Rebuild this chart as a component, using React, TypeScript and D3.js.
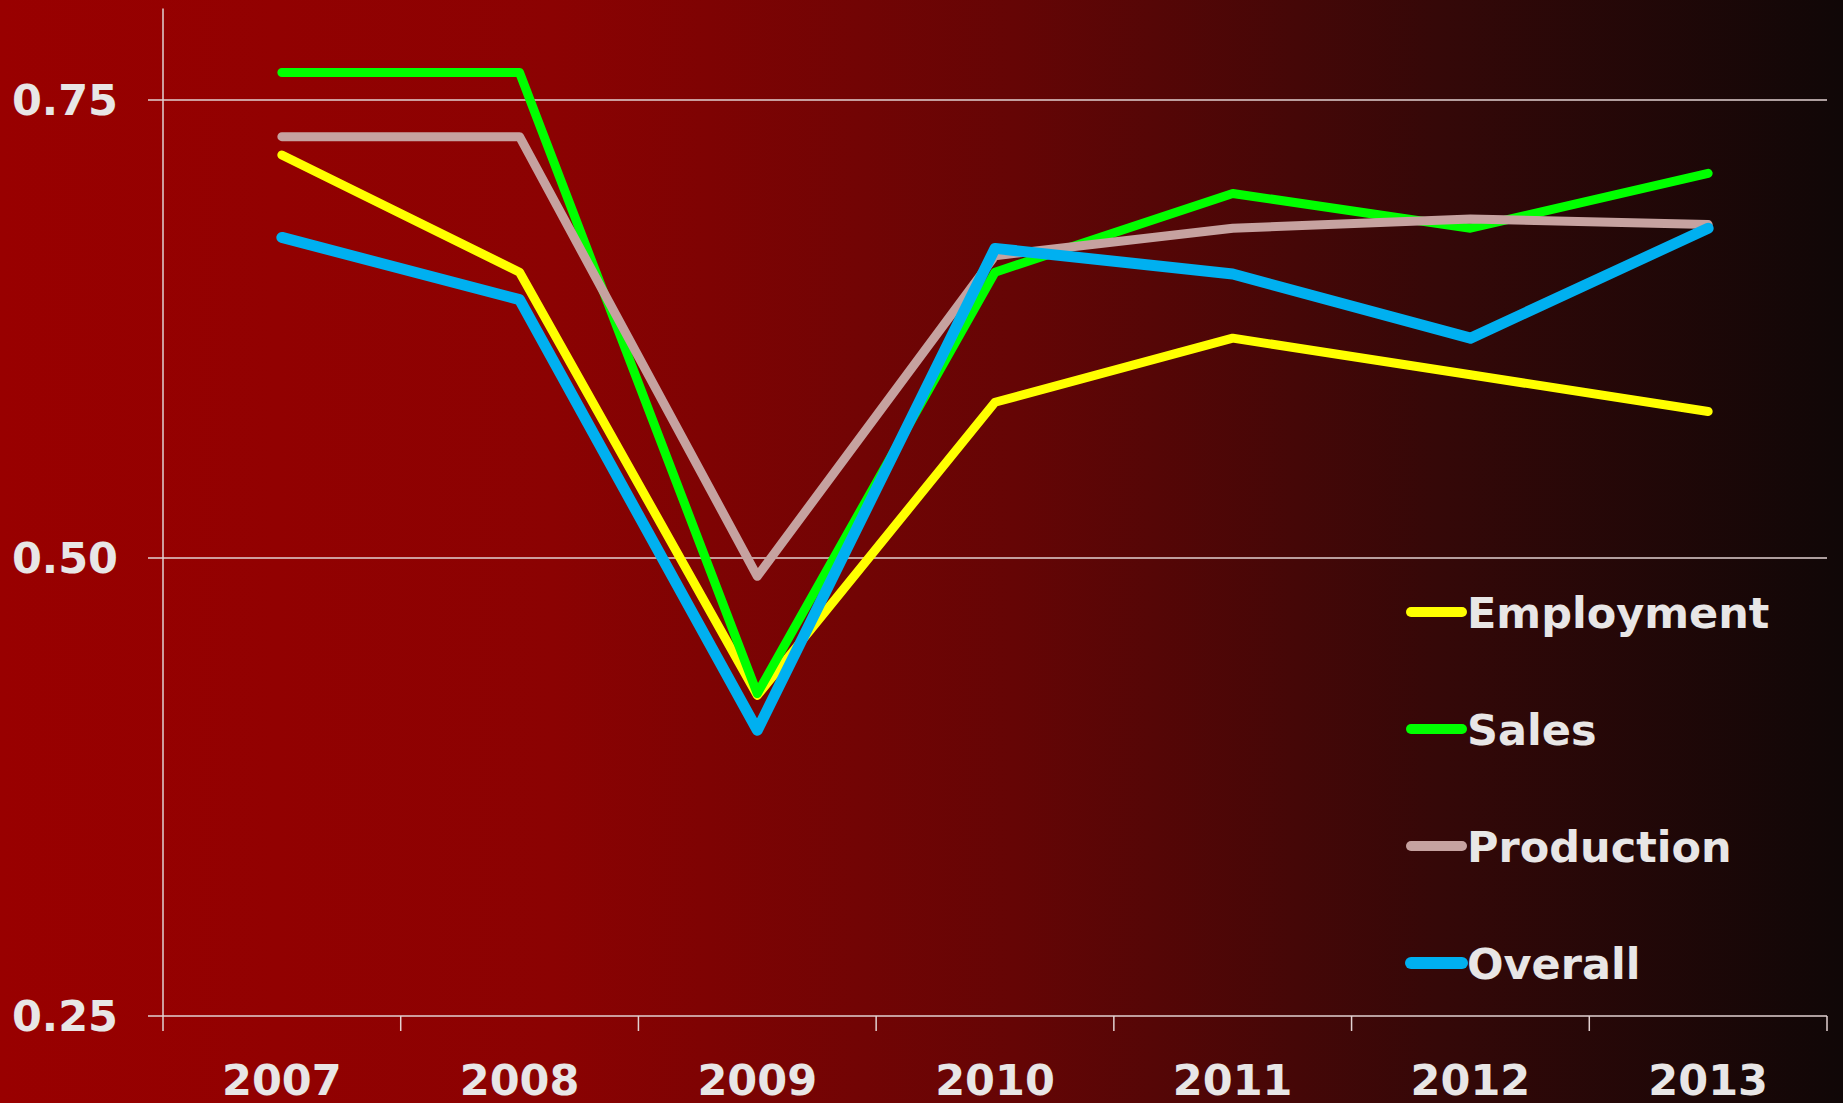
import React from "react";
import * as d3 from "d3";

const years = ["2007", "2008", "2009", "2010", "2011", "2012", "2013"];
const employment = [0.72, 0.656, 0.425, 0.585, 0.62, 0.6, 0.58];
const sales = [0.765, 0.765, 0.426, 0.656, 0.699, 0.68, 0.71];
const production = [0.73, 0.73, 0.49, 0.665, 0.68, 0.685, 0.682];
const overall = [0.675, 0.641, 0.406, 0.669, 0.655, 0.62, 0.68];
const yTicks = [0.25, 0.5, 0.75];

const seriesList = [
  { name: "Employment", values: employment, color: "#ffff00", width: 9 },
  { name: "Sales", values: sales, color: "#00ff00", width: 9 },
  { name: "Production", values: production, color: "#c6a2a0", width: 9 },
  { name: "Overall", values: overall, color: "#00b0f0", width: 11 },
];

const W = 1843;
const H = 1103;
const left = 163;
const right = 1827;
const FONT = "'DejaVu Sans', Verdana, sans-serif";
const TXT = "#e8e6e6";
const AX = "#e2d2d2";
const FS = 43;

export default function App() {
  const x = d3.scaleBand<string>().domain(years).range([left, right]).padding(0);
  const y = d3.scaleLinear().domain([0.25, 0.8]).range([1016, 8.4]);
  const line = d3
    .line<number>()
    .x((_, i) => (x(years[i]) as number) + x.bandwidth() / 2)
    .y((d) => y(d));

  const boundaries = years.map((yr) => x(yr) as number).concat([right]);

  return (
    <svg
      width={W}
      height={H}
      style={{ position: "absolute", left: 0, top: 0, display: "block" }}
    >
      <defs>
        <linearGradient id="bg" x1="0" y1="0" x2="1" y2="0">
          <stop offset="0%" stopColor="#990000" />
          <stop offset="30%" stopColor="#8b0202" />
          <stop offset="55%" stopColor="#650505" />
          <stop offset="78%" stopColor="#350808" />
          <stop offset="100%" stopColor="#100707" />
        </linearGradient>
      </defs>
      <rect x={0} y={0} width={W} height={H} fill="url(#bg)" />

      {yTicks.map((t) => (
        <g key={t}>
          <line x1={148} x2={right} y1={y(t)} y2={y(t)} stroke={AX} strokeWidth={1.5} />
          <text
            x={118}
            y={y(t)}
            dy="0.36em"
            textAnchor="end"
            fill={TXT}
            fontFamily={FONT}
            fontWeight="bold"
            fontSize={FS}
          >
            {t.toFixed(2)}
          </text>
        </g>
      ))}

      <line x1={left} x2={left} y1={y(0.8)} y2={1016} stroke={AX} strokeWidth={1.5} />

      {boundaries.map((bx, i) => (
        <line key={i} x1={bx} x2={bx} y1={1016} y2={1031} stroke={AX} strokeWidth={1.5} />
      ))}
      {years.map((yr) => (
        <text
          key={yr}
          x={(x(yr) as number) + x.bandwidth() / 2}
          y={1095}
          textAnchor="middle"
          fill={TXT}
          fontFamily={FONT}
          fontWeight="bold"
          fontSize={FS}
        >
          {yr}
        </text>
      ))}

      {seriesList.map((s) => (
        <path
          key={s.name}
          d={line(s.values) as string}
          fill="none"
          stroke={s.color}
          strokeWidth={s.width}
          strokeLinecap="round"
          strokeLinejoin="round"
        />
      ))}

      {seriesList.map((s, i) => {
        const cy = 612 + i * 117;
        return (
          <g key={s.name}>
            <line
              x1={1411}
              x2={1462}
              y1={cy}
              y2={cy}
              stroke={s.color}
              strokeWidth={s.width + 1}
              strokeLinecap="round"
            />
            <text
              x={1467}
              y={cy + 16}
              fill={TXT}
              fontFamily={FONT}
              fontWeight="bold"
              fontSize={FS}
            >
              {s.name}
            </text>
          </g>
        );
      })}
    </svg>
  );
}
